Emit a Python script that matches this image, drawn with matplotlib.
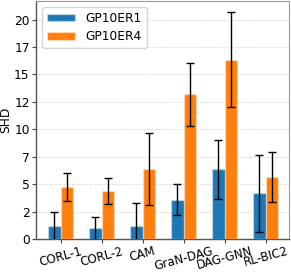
import matplotlib
matplotlib.use("Agg")
import matplotlib.pyplot as plt
import numpy as np
from matplotlib.ticker import MultipleLocator, FormatStrFormatter

methods = ["CORL-1", "CORL-2", "CAM", "GraN-DAG", "DAG-GNN", "RL-BIC2"]
er1_mean = [1.15, 0.97, 1.15, 3.58, 6.36, 4.18]
er1_err = [1.33, 1.06, 2.1, 1.4, 2.68, 3.5]
er4_mean = [4.76, 4.39, 6.36, 13.18, 16.36, 5.64]
er4_err = [1.29, 1.21, 3.3, 2.9, 4.3, 2.3]
series_names = ["GP10ER1", "GP10ER4"]

fs = 8.8
plt.rcParams['font.family'] = ['DejaVu Sans']
plt.rcParams['font.size'] = fs

fig = plt.figure(figsize=(2.91, 2.74), dpi=100)
ax = fig.add_axes([36/291, 35/274, 253/291, 238/274])

x = np.arange(len(methods))
w = 0.31
ekw = dict(ecolor='black', elinewidth=1.0, capsize=3, capthick=1.0)
ax.bar(x - w/2, er1_mean, w, yerr=er1_err, color='#1f77b4', edgecolor=(1, 1, 1, 0.35),
       linewidth=1.0, label=series_names[0], error_kw=ekw, zorder=3)
ax.bar(x + w/2, er4_mean, w, yerr=er4_err, color='#ff7f0e', edgecolor=(1, 1, 1, 0.35),
       linewidth=1.0, label=series_names[1], error_kw=ekw, zorder=3)

ax.set_xlim(-0.6, 5.57)
ax.set_ylim(0, 21.7)
ax.yaxis.set_major_locator(MultipleLocator(2.5))
ax.yaxis.set_major_formatter(FormatStrFormatter('%d'))
ax.set_xticks(x)
ax.set_xticklabels(methods, rotation=15, fontsize=8.6)
ax.tick_params(axis='y', labelsize=fs, length=3, width=0.8, color='#444444', pad=1.5)
ax.tick_params(axis='x', length=3, width=0.8, color='#444444', pad=1.0)
ax.set_ylabel("SHD", fontsize=fs)
ax.yaxis.set_label_coords(-0.093, 0.5)
ax.grid(axis='y', linestyle='--', color='#dddddd', linewidth=0.6, zorder=0)
ax.set_axisbelow(True)
for s in ['left', 'bottom']:
    ax.spines[s].set_color('#555555')
    ax.spines[s].set_linewidth(1.0)
for s in ['top', 'right']:
    ax.spines[s].set_color('#999999')
    ax.spines[s].set_linewidth(0.8)

ax.legend(loc='upper left', fontsize=fs, handlelength=2.25, handleheight=0.55,
          labelspacing=0.45, handletextpad=0.9, framealpha=0.8,
          edgecolor='#cccccc')

fig.savefig("out.png", dpi=100)
